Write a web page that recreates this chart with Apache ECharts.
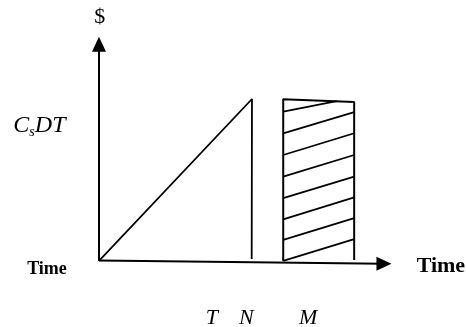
<!DOCTYPE html>
<html>
<head>
<meta charset="utf-8">
<script src="https://cdn.jsdelivr.net/npm/echarts@6/dist/echarts.min.js"></script>
<style>
  html, body { margin: 0; padding: 0; background: #fff; }
  #chart { width: 466px; height: 327px; }
</style>
</head>
<body>
<div id="chart"></div>
<script>
// diagram units: origin of the $ / Time axes at (0, 0)
const yAxisLine = [[0, 0], [0, 96.9]]
const xAxisLine = [[0, 0.2], [97.6, -1.3]]
const arrowHeads = [[0, 96.7, 0], [97.6, -1.3, -90]] // x, y, rotation

// cost ramp up to C_sDT at T, then straight down at N
const rampX = [0, 52.4, 52.3]
const rampY = [0, 72.3, 0.9]

// shaded block (outline)
const blockX = [63.1, 63.1, 87.4, 87.4]
const blockY = [0, 72.2, 71.0, 0.45]

// hatch lines inside the block
const hatchStartX = 63.1
const hatchStartY = [66.7, 57.0, 47.3, 37.6, 28.0, 18.6, 9.4, 0]
const hatchEndX = [81.4, 87.4, 87.4, 87.4, 87.4, 87.4, 87.4, 87.4]
const hatchEndY = [71.3, 66.4, 57.0, 47.3, 37.6, 28.4, 19.1, 9.7]

// texts
const tickNames = ['T', 'N', 'M']
const tickX = [38.7, 50.5, 71.6]
const tickY = -25.4
const timeLabels = ['Time', 'Time']
const timeX = [-17.8, 117.1]
const timeY = [-3.6, -2.5]
const dollarPos = [0.3, 108.9]
const costPos = [-20.4, 60.3]

const serif = "'Liberation Serif', 'Times New Roman', serif"
const black = '#000'

const chart = echarts.init(document.getElementById('chart'), null, { renderer: 'canvas' })

function lineSeries(points, width) {
  return {
    type: 'line',
    data: points,
    symbol: 'none',
    silent: true,
    lineStyle: { color: black, width: width },
  }
}

// text-only scatter: no visible symbol, full opacity
function textSeries(label, data) {
  return {
    type: 'scatter',
    silent: true,
    symbolSize: 0,
    itemStyle: { opacity: 1 },
    label: Object.assign({ show: true, position: 'inside', color: black, fontFamily: serif }, label),
    data: data,
  }
}

const hatches = hatchStartY.map((y, i) => ({
  coords: [[hatchStartX, y], [hatchEndX[i], hatchEndY[i]]],
}))

const option = {
  animation: false,
  backgroundColor: '#fff',
  grid: { left: 0, right: 0, top: 0, bottom: 0 },
  xAxis: { type: 'value', min: -33.9, max: 125.7, show: false },
  yAxis: { type: 'value', min: -29.5, max: 116.5, show: false },
  series: [
    lineSeries(yAxisLine, 2),
    lineSeries(xAxisLine, 2),
    {
      type: 'scatter',
      silent: true,
      symbol: 'triangle',
      symbolSize: [14, 15],
      symbolRotate: (v) => v[2],
      itemStyle: { color: black, opacity: 1 },
      data: arrowHeads,
    },
    lineSeries(rampX.map((x, i) => [x, rampY[i]]), 1.8),
    lineSeries(blockX.map((x, i) => [x, blockY[i]]), 2),
    {
      type: 'lines',
      coordinateSystem: 'cartesian2d',
      silent: true,
      lineStyle: { color: black, width: 1.8, opacity: 1 },
      data: hatches,
    },
    textSeries(
      { formatter: (p) => tickNames[p.dataIndex], fontStyle: 'italic', fontSize: 22 },
      tickX.map((x) => [x, tickY])
    ),
    textSeries(
      { formatter: (p) => timeLabels[p.dataIndex], fontWeight: 'bold' },
      timeX.map((x, i) => ({ value: [x, timeY[i]], label: { fontSize: i === 0 ? 18 : 22 } }))
    ),
    textSeries({ formatter: '$', fontSize: 22 }, [dollarPos]),
    textSeries(
      {
        formatter: '{a|C}{b|s}{a|DT}',
        rich: {
          a: { fontFamily: serif, fontStyle: 'italic', fontSize: 24, color: black },
          b: { fontFamily: serif, fontStyle: 'italic', fontSize: 14, color: black, padding: [12, 0, 0, 0] },
        },
      },
      [costPos]
    ),
  ],
}

chart.setOption(option)
window.addEventListener('resize', () => chart.resize())
</script>
</body>
</html>
